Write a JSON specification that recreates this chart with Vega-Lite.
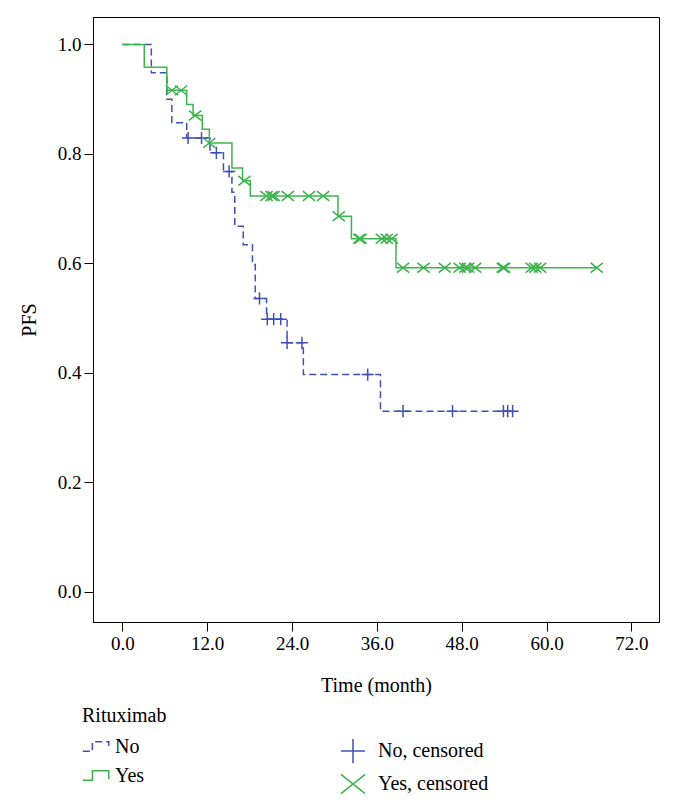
{
  "$schema": "https://vega.github.io/schema/vega-lite/v6.json",
  "width": 566,
  "height": 605,
  "autosize": {"type": "none"},
  "padding": {"left": 93, "top": 17, "right": 15, "bottom": 184},
  "background": "white",
  "config": {
    "font": "Liberation Serif",
    "view": {"stroke": "black", "strokeWidth": 1},
    "axis": {
      "domainColor": "black", "tickColor": "black", "labelColor": "black", "titleColor": "black",
      "labelFont": "Liberation Serif", "titleFont": "Liberation Serif",
      "labelFontSize": 19, "titleFontSize": 20, "titleFontWeight": "normal",
      "grid": false, "tickSize": 9, "domainWidth": 1, "tickWidth": 1, "labelPadding": 3
    },
    "legend": {
      "labelFont": "Liberation Serif", "titleFont": "Liberation Serif",
      "labelFontSize": 20, "titleFontSize": 20, "titleFontWeight": "normal",
      "labelColor": "black", "titleColor": "black", "padding": 0
    }
  },
  "datasets": {
    "curves": [
      {"group": "No", "time": 0, "surv": 1.0},
      {"group": "No", "time": 4.1, "surv": 0.948},
      {"group": "No", "time": 6.3, "surv": 0.9},
      {"group": "No", "time": 7.0, "surv": 0.857},
      {"group": "No", "time": 9.1, "surv": 0.829},
      {"group": "No", "time": 12.4, "surv": 0.802},
      {"group": "No", "time": 14.3, "surv": 0.768},
      {"group": "No", "time": 15.5, "surv": 0.73},
      {"group": "No", "time": 15.9, "surv": 0.668},
      {"group": "No", "time": 17.1, "surv": 0.634},
      {"group": "No", "time": 18.4, "surv": 0.598},
      {"group": "No", "time": 18.8, "surv": 0.536},
      {"group": "No", "time": 20.4, "surv": 0.498},
      {"group": "No", "time": 23.3, "surv": 0.455},
      {"group": "No", "time": 25.6, "surv": 0.397},
      {"group": "No", "time": 36.5, "surv": 0.33},
      {"group": "No", "time": 55.2, "surv": 0.33},
      {"group": "Yes", "time": 0, "surv": 1.0},
      {"group": "Yes", "time": 3.1, "surv": 0.958},
      {"group": "Yes", "time": 6.3, "surv": 0.916},
      {"group": "Yes", "time": 9.1, "surv": 0.89},
      {"group": "Yes", "time": 10.0, "surv": 0.87},
      {"group": "Yes", "time": 11.3, "surv": 0.845},
      {"group": "Yes", "time": 12.3, "surv": 0.82},
      {"group": "Yes", "time": 15.5, "surv": 0.774},
      {"group": "Yes", "time": 17.0, "surv": 0.751},
      {"group": "Yes", "time": 18.1, "surv": 0.723},
      {"group": "Yes", "time": 30.5, "surv": 0.686},
      {"group": "Yes", "time": 32.4, "surv": 0.645},
      {"group": "Yes", "time": 38.7, "surv": 0.592},
      {"group": "Yes", "time": 67.1, "surv": 0.592}
    ],
    "censored": [
      {"label": "No, censored", "time": 9.3, "surv": 0.829},
      {"label": "No, censored", "time": 11.2, "surv": 0.829},
      {"label": "No, censored", "time": 13.3, "surv": 0.802},
      {"label": "No, censored", "time": 15.1, "surv": 0.768},
      {"label": "No, censored", "time": 19.4, "surv": 0.536},
      {"label": "No, censored", "time": 20.5, "surv": 0.498},
      {"label": "No, censored", "time": 21.4, "surv": 0.498},
      {"label": "No, censored", "time": 22.4, "surv": 0.498},
      {"label": "No, censored", "time": 23.3, "surv": 0.455},
      {"label": "No, censored", "time": 25.4, "surv": 0.455},
      {"label": "No, censored", "time": 34.7, "surv": 0.397},
      {"label": "No, censored", "time": 39.7, "surv": 0.33},
      {"label": "No, censored", "time": 46.7, "surv": 0.33},
      {"label": "No, censored", "time": 53.9, "surv": 0.33},
      {"label": "No, censored", "time": 54.5, "surv": 0.33},
      {"label": "No, censored", "time": 55.2, "surv": 0.33},
      {"label": "Yes, censored", "time": 7.0, "surv": 0.916},
      {"label": "Yes, censored", "time": 8.3, "surv": 0.916},
      {"label": "Yes, censored", "time": 10.3, "surv": 0.87},
      {"label": "Yes, censored", "time": 12.3, "surv": 0.82},
      {"label": "Yes, censored", "time": 17.25, "surv": 0.751},
      {"label": "Yes, censored", "time": 20.4, "surv": 0.723},
      {"label": "Yes, censored", "time": 21.1, "surv": 0.723},
      {"label": "Yes, censored", "time": 21.4, "surv": 0.723},
      {"label": "Yes, censored", "time": 23.4, "surv": 0.723},
      {"label": "Yes, censored", "time": 26.4, "surv": 0.723},
      {"label": "Yes, censored", "time": 28.4, "surv": 0.723},
      {"label": "Yes, censored", "time": 30.6, "surv": 0.686},
      {"label": "Yes, censored", "time": 33.5, "surv": 0.645},
      {"label": "Yes, censored", "time": 33.7, "surv": 0.645},
      {"label": "Yes, censored", "time": 36.7, "surv": 0.645},
      {"label": "Yes, censored", "time": 37.4, "surv": 0.645},
      {"label": "Yes, censored", "time": 38.1, "surv": 0.645},
      {"label": "Yes, censored", "time": 39.7, "surv": 0.592},
      {"label": "Yes, censored", "time": 42.6, "surv": 0.592},
      {"label": "Yes, censored", "time": 45.6, "surv": 0.592},
      {"label": "Yes, censored", "time": 47.7, "surv": 0.592},
      {"label": "Yes, censored", "time": 48.5, "surv": 0.592},
      {"label": "Yes, censored", "time": 48.9, "surv": 0.592},
      {"label": "Yes, censored", "time": 49.9, "surv": 0.592},
      {"label": "Yes, censored", "time": 53.8, "surv": 0.592},
      {"label": "Yes, censored", "time": 54.0, "surv": 0.592},
      {"label": "Yes, censored", "time": 57.9, "surv": 0.592},
      {"label": "Yes, censored", "time": 58.4, "surv": 0.592},
      {"label": "Yes, censored", "time": 59.1, "surv": 0.592},
      {"label": "Yes, censored", "time": 67.1, "surv": 0.592}
    ]
  },
  "layer": [
    {
      "data": {"name": "curves"},
      "mark": {"type": "line", "interpolate": "step-after", "strokeWidth": 1.5},
      "encoding": {
        "x": {
          "field": "time", "type": "quantitative",
          "scale": {"domain": [-4.15, 75.9], "nice": false, "zero": false},
          "axis": {"values": [0, 12, 24, 36, 48, 60, 72], "format": ".1f", "title": "Time (month)", "titlePadding": 22}
        },
        "y": {
          "field": "surv", "type": "quantitative",
          "scale": {"domain": [-0.055, 1.05], "nice": false, "zero": false},
          "axis": {"values": [0, 0.2, 0.4, 0.6, 0.8, 1.0], "format": ".1f", "title": "PFS", "titlePadding": 18}
        },
        "color": {
          "field": "group", "type": "nominal",
          "scale": {"domain": ["No", "Yes"], "range": ["#3f51b5", "#3cb44b"]},
          "legend": {"title": "Rituximab", "orient": "none", "legendX": -11, "legendY": 689, "direction": "vertical",
            "symbolType": "M-1,0.35H-0.3V-0.35H0.9V0.25", "symbolSize": 750, "symbolStrokeWidth": 1.5, "rowPadding": 4, "titlePadding": 6, "labelOffset": 4}
        },
        "strokeDash": {
          "field": "group", "type": "nominal",
          "scale": {"domain": ["No", "Yes"], "range": [[7, 4], [1, 0]]},
          "legend": {"title": "Rituximab", "orient": "none", "legendX": -11, "legendY": 689, "direction": "vertical",
            "symbolType": "M-1,0.35H-0.3V-0.35H0.9V0.25", "symbolSize": 750, "symbolStrokeWidth": 1.5, "rowPadding": 4, "titlePadding": 6, "labelOffset": 4}
        }
      }
    },
    {
      "data": {"name": "censored"},
      "mark": {"type": "point", "filled": false, "strokeWidth": 1.5, "size": 150, "opacity": 1},
      "encoding": {
        "x": {"field": "time", "type": "quantitative"},
        "y": {"field": "surv", "type": "quantitative"},
        "shape": {
          "field": "label", "type": "nominal",
          "scale": {"domain": ["No, censored", "Yes, censored"], "range": ["M-1,0H1M0,-1V1", "M-1,-0.8L1,0.8M-1,0.8L1,-0.8"]},
          "legend": {"title": null, "orient": "none", "legendX": 247, "legendY": 721, "direction": "vertical",
            "symbolSize": 576, "symbolStrokeWidth": 1.5, "rowPadding": 5, "labelOffset": 12}
        },
        "stroke": {
          "field": "label", "type": "nominal",
          "scale": {"domain": ["No, censored", "Yes, censored"], "range": ["#3f51b5", "#3cb44b"]},
          "legend": {"title": null, "orient": "none", "legendX": 247, "legendY": 721, "direction": "vertical",
            "symbolSize": 576, "symbolStrokeWidth": 1.5, "rowPadding": 5, "labelOffset": 12}
        }
      }
    }
  ]
}
